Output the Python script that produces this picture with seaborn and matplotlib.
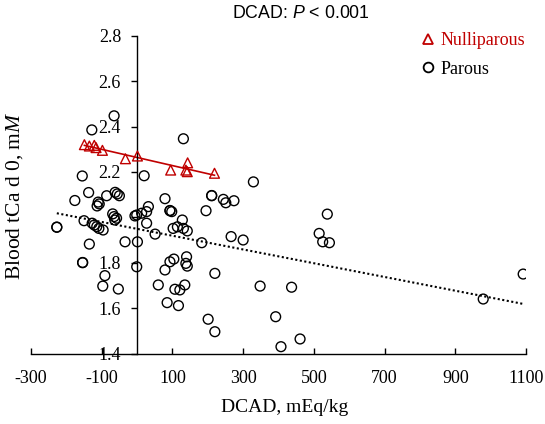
import matplotlib
matplotlib.use("Agg")
import matplotlib.pyplot as plt
import seaborn as sns
import numpy as np
import pandas as pd
from matplotlib.lines import Line2D

# ---- data ----
null_dcad = [-149, -135, -121, -116, -98, -33, 1, 95, 138, 142, 143, 219]
null_tca = [2.320, 2.314, 2.317, 2.307, 2.295, 2.258, 2.270, 2.208, 2.208, 2.201, 2.240, 2.194]

parous_dcad = [-65, -128, -155, -137, -176, -110, -107, -113, -86, -62, -56, -50,
               20, 131, 329, 211, 211, 79, -227, -227, -150, -127, -121, -114, -108,
               -96, -135, -69, -65, -63, -58, -34, -6, -1, 13, 27, 32, 1, -1, 27,
               51, 93, 93, 98, 102, 114, 128, 131, 142, 183, 195, 244, 251, 274,
               266, 300, 348, -154, -154, -91, -97, -53, 93, 104, 79, 60, 85, 107,
               121, 135, 117, 140, 138, 142, 220, 201, 220, 538, 515, 525, 544,
               437, 392, 461, 407, 979, 1092]
parous_tca = [2.447, 2.385, 2.182, 2.109, 2.074, 2.067, 2.059, 2.050, 2.095, 2.110,
              2.103, 2.095, 2.183, 2.346, 2.156, 2.095, 2.096, 2.082, 1.956, 1.957,
              1.985, 1.974, 1.966, 1.959, 1.951, 1.944, 1.882, 2.015, 2.003, 1.988,
              1.996, 1.892, 2.006, 2.010, 2.018, 2.025, 2.047, 1.892, 1.782, 1.974,
              1.926, 2.029, 2.030, 2.025, 1.951, 1.958, 1.988, 1.951, 1.940, 1.888,
              2.029, 2.079, 2.064, 2.073, 1.915, 1.900, 1.697, 1.800, 1.801, 1.743,
              1.697, 1.684, 1.804, 1.816, 1.768, 1.702, 1.624, 1.683, 1.680, 1.702,
              1.611, 1.826, 1.797, 1.785, 1.753, 1.551, 1.496, 2.014, 1.929, 1.892,
              1.888, 1.692, 1.562, 1.464, 1.430, 1.640, 1.750]

x_ticks = [-300, -100, 100, 300, 500, 700, 900, 1100]
y_ticks = [1.4, 1.6, 1.8, 2.0, 2.2, 2.4, 2.6, 2.8]
y_tick_labels = ["1.4", "1.6", "1.8", "", "2.2", "2.4", "2.6", "2.8"]

RED = "#C00000"

plt.rcParams["font.family"] = ["Liberation Serif", "DejaVu Serif"]
plt.rcParams["mathtext.fontset"] = "custom"
plt.rcParams["mathtext.it"] = "Liberation Sans:italic"
plt.rcParams["mathtext.rm"] = "Liberation Sans"
plt.rcParams["mathtext.sf"] = "Liberation Serif:italic"

fig = plt.figure(figsize=(5.45, 4.24), dpi=100)
ax = fig.add_axes([31 / 545, 1 - 353.5 / 424, 495 / 545, 317.8 / 424])

null_df = pd.DataFrame({"DCAD": null_dcad, "tCa": null_tca})
par_df = pd.DataFrame({"DCAD": parous_dcad, "tCa": parous_tca})

sns.regplot(data=par_df, x="DCAD", y="tCa", ax=ax, ci=None, color="black",
            marker="o",
            scatter_kws={"facecolors": "none", "s": 50, "linewidths": 1.0, "alpha": 1, "zorder": 3},
            line_kws={"linestyle": (0, (1, 1.2)), "linewidth": 1.5, "zorder": 2})
sns.regplot(data=null_df, x="DCAD", y="tCa", ax=ax, ci=None, color=RED,
            marker="^",
            scatter_kws={"facecolors": "none", "s": 50, "linewidths": 1.0, "alpha": 1, "zorder": 4},
            line_kws={"linestyle": "-", "linewidth": 1.2, "zorder": 2})

ax.set_xlim(-300, 1100)
ax.set_ylim(1.4, 2.8)
ax.set_xticks(x_ticks)
ax.set_xticklabels([str(v) for v in x_ticks])
ax.set_yticks(y_ticks)
ax.set_yticklabels(y_tick_labels)

for s in ["top", "right"]:
    ax.spines[s].set_visible(False)
ax.spines["left"].set_position(("data", 0))
ax.spines["left"].set_linewidth(1.0)
ax.spines["bottom"].set_linewidth(1.0)

ax.tick_params(axis="x", direction="in", length=4, width=1, labelsize=13, pad=12, colors="black")
ax.tick_params(axis="y", direction="out", length=4.5, width=1, labelsize=13, pad=7, colors="black")

ax.set_xlabel("")
ax.set_ylabel("")
fig.text(285 / 545, 1 - 408 / 424, "DCAD, mEq/kg", ha="center", va="center", fontsize=14)
fig.text(15 / 545, 1 - 196 / 424, r"Blood tCa d 0, m$\mathsf{M}$", ha="center", va="center",
         rotation=90, fontsize=15.5)
fig.text(301 / 545, 1 - 13 / 424, r"DCAD: $\mathit{P}$ < 0.001", ha="center", va="center",
         fontsize=12.8, family="Liberation Sans")

handles = [
    Line2D([], [], marker="^", linestyle="none", markerfacecolor="none",
           markeredgecolor=RED, markersize=7.5, markeredgewidth=1.3),
    Line2D([], [], marker="o", linestyle="none", markerfacecolor="none",
           markeredgecolor="black", markersize=7, markeredgewidth=1.3),
]
leg = ax.legend(handles, ["Nulliparous", "Parous"], loc="upper left",
                bbox_to_anchor=(422 / 545, 1 - 32 / 424), bbox_transform=fig.transFigure,
                frameon=False, fontsize=13, handlelength=0.7, handletextpad=0.3,
                borderpad=0, borderaxespad=0, labelspacing=0.65)
leg.get_texts()[0].set_color(RED)

fig.savefig("out.png", dpi=100)
